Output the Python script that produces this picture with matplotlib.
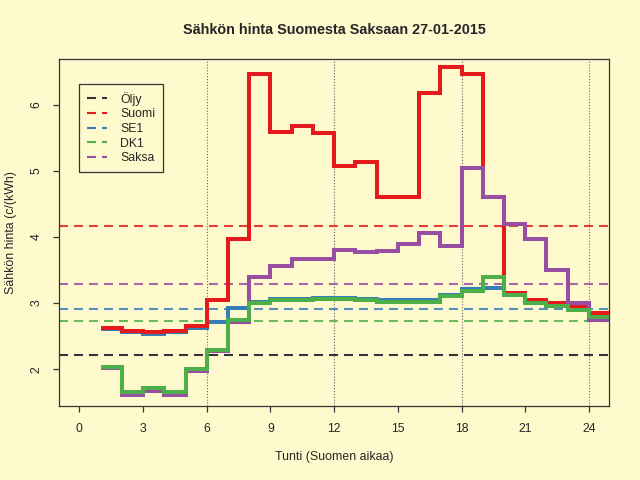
import matplotlib
matplotlib.use("Agg")
import matplotlib.pyplot as plt
from matplotlib.lines import Line2D
import numpy as np

# ---- data ----
hours = list(range(1, 26))  # step edges 1..25
suomi = [2.63, 2.58, 2.57, 2.58, 2.66, 3.05, 3.97, 6.46, 5.58, 5.68, 5.57, 5.07,
         5.13, 4.60, 4.60, 6.17, 6.57, 6.46, 4.60, 3.16, 3.04, 3.00, 2.96, 2.85]
se1 = [2.61, 2.56, 2.54, 2.56, 2.62, 2.71, 2.92, 3.02, 3.06, 3.06, 3.08, 3.08,
       3.06, 3.04, 3.05, 3.05, 3.13, 3.21, 3.23, 3.14, 3.02, 2.97, 2.92, 2.80]
dk1 = [2.04, 1.65, 1.71, 1.65, 2.00, 2.29, 2.75, 3.00, 3.05, 3.04, 3.06, 3.06,
       3.04, 3.01, 3.02, 3.02, 3.11, 3.18, 3.39, 3.13, 3.00, 2.95, 2.90, 2.79]
saksa = [2.02, 1.61, 1.67, 1.61, 1.98, 2.27, 2.72, 3.40, 3.56, 3.67, 3.66, 3.80,
         3.77, 3.79, 3.89, 4.06, 3.87, 5.04, 4.60, 4.20, 3.97, 3.50, 3.00, 2.75]
# reference (mean) levels
oljy_level = 2.21
suomi_mean = 4.17
se1_mean = 2.91
dk1_mean = 2.73
saksa_mean = 3.29

legend_labels = ["Öljy", "Suomi", "SE1", "DK1", "Saksa"]
xticks = [0, 3, 6, 9, 12, 15, 18, 21, 24]
yticks = [2, 3, 4, 5, 6]
grid_x = [6, 12, 18, 24]

title = "Sähkön hinta Suomesta Saksaan 27-01-2015"
xlabel = "Tunti (Suomen aikaa)"
ylabel = "Sähkön hinta (c/(kWh)"

# ---- style ----
BG = "#FFFACD"
TXT = "#262626"
C_OIL = "#333333"
C_FI = "#E41A1C"
C_SE = "#377EB8"
C_DK = "#4DAF4A"
C_DE = "#984EA3"

plt.rcParams["font.family"] = ["Liberation Sans", "DejaVu Sans"]

W, H = 640, 480
fig = plt.figure(figsize=(6.4, 4.8), dpi=100, facecolor=BG)
L, R, T, B = 59, 609.3, 59, 406.3
ax = fig.add_axes([L / W, 1 - B / H, (R - L) / W, (B - T) / H], facecolor=BG)
ax.set_xlim(-0.96, 24.96)
ax.set_ylim(1.44, 6.69)

# vertical dotted grid
for gx in grid_x:
    ax.axvline(gx, color="#666666", lw=0.8, ls=(0, (1, 1.6)), zorder=1)

# dashed reference lines
dash = (0, (4.3, 2.9))
ref_lw = 1.5
ax.axhline(oljy_level, color=C_OIL, lw=ref_lw, ls=dash, zorder=2)
ax.axhline(suomi_mean, color=C_FI, lw=ref_lw, ls=dash, alpha=0.85, zorder=2)
ax.axhline(se1_mean, color=C_SE, lw=ref_lw, ls=dash, alpha=0.85, zorder=2)
ax.axhline(dk1_mean, color=C_DK, lw=ref_lw, ls=dash, alpha=0.85, zorder=2)
ax.axhline(saksa_mean, color=C_DE, lw=ref_lw, ls=dash, alpha=0.85, zorder=2)

# step lines
lw = 2.9
ax.stairs(se1, hours, baseline=None, color=C_SE, lw=lw, zorder=3)
ax.stairs(suomi, hours, baseline=None, color=C_FI, lw=lw, zorder=4)
ax.stairs(saksa, hours, baseline=None, color=C_DE, lw=lw, zorder=5)
ax.stairs(dk1, hours, baseline=None, color=C_DK, lw=lw, zorder=6)

# axes styling
for s in ax.spines.values():
    s.set_color("#333333")
    s.set_linewidth(0.9)
ax.set_xticks(xticks)
ax.set_xticklabels([str(v) for v in xticks])
ax.set_yticks(yticks)
ax.set_yticklabels([str(v) for v in yticks], rotation=90, va="center")
ax.tick_params(axis="both", direction="out", length=4.5, width=0.9,
               color="#333333", labelcolor=TXT, labelsize=8.8, pad=7.5)

# texts
cx = (L + R) / 2 / W
fig.text(cx, 1 - 30 / H, title, ha="center", va="center",
         fontsize=10.4, fontweight="bold", color=TXT)
fig.text(cx, 1 - 457 / H, xlabel, ha="center", va="center",
         fontsize=8.9, color=TXT)
fig.text(11 / W, 1 - ((T + B) / 2) / H, ylabel, ha="center", va="center",
         rotation=90, fontsize=8.9, color=TXT)

# legend
handles = [Line2D([], [], color=c, lw=ref_lw, ls=dash)
           for c in [C_OIL, C_FI, C_SE, C_DK, C_DE]]
leg = ax.legend(handles, legend_labels, loc="upper left",
                bbox_to_anchor=(79.3 / W, 1 - 84.3 / H),
                bbox_transform=fig.transFigure,
                fontsize=8.8, frameon=True, fancybox=False, framealpha=1,
                edgecolor="#333333", facecolor=BG, borderpad=0.6,
                labelspacing=0.22, handlelength=1.65, handletextpad=1.1,
                borderaxespad=0)
leg.get_frame().set_linewidth(0.9)
for t in leg.get_texts():
    t.set_color(TXT)

fig.savefig("out.png", dpi=100, facecolor=BG)
